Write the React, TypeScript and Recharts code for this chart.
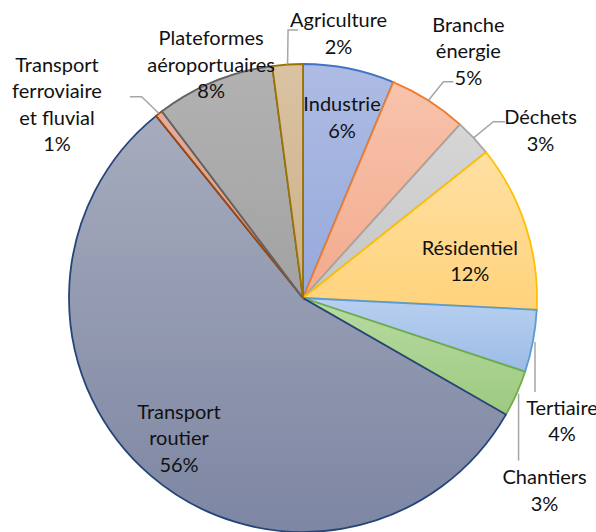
import { Cell, Pie, PieChart } from "recharts"

// émissions par secteur (%), dans l'ordre du tracé à partir de midi
const sectors = [
  "Industrie",
  "Branche\nénergie",
  "Déchets",
  "Résidentiel",
  "Tertiaire",
  "Chantiers",
  "Transport\nroutier",
  "Transport\nferroviaire\net fluvial",
  "Plateformes\naéroportuaires",
  "Agriculture",
]
const shares = [6.3, 5.4, 2.6, 11.5, 4.3, 3.2, 55.9, 0.5, 8.2, 2.1]

const data = sectors.map((name, i) => ({ name, value: shares[i] }))

const FILL_TOP = ["#AEBCE4", "#F8C3AC", "#D6D6D6", "#FFE0A3", "#B8D0F0", "#B8DBA2", "#A6ACBD", "#E2AE9E", "#B2B2B2", "#DAC2A2"]
const FILL_BOTTOM = ["#95A9DA", "#F2AB8D", "#C6C6C6", "#FFD37C", "#9CBCE6", "#9CC97F", "#7D86A3", "#D59A86", "#A2A2A2", "#CDB08C"]
const STROKES = ["#4472C4", "#ED7D31", "#A5A5A5", "#FFC000", "#5B9BD5", "#70AD47", "#264478", "#9E480E", "#636363", "#997300"]

const W = 596
const H = 532
const CX = 303
const CY = 298
const R = 234
const RAD = Math.PI / 180
const LINE_H = 26.5

// label block centre, relative to the point on the rim at the slice's mid angle
const LABEL_OFFSET = [
  [-7, 48],
  [40, -50.4],
  [67, -8.5],
  [-56, 33.5],
  [29, 79],
  [28, 96],
  [28, -38.5],
  [-102, -10],
  [-3, -18],
  [51, -32],
]
// leader lines (Excel style), same reference point
const LEADERS: number[][][] = [
  [],
  [[0, 0], [15, -18.7], [25, -18.7]],
  [[0, 0], [19.7, -16.1], [31.4, -16.1]],
  [],
  [[2, 1], [2, 51]],
  [[2, 0], [2, 67]],
  [],
  [[0, 0], [-17.3, -16.9], [-29, -16.9]],
  [],
  [[0, 0], [0.5, -34.5], [10.5, -34.5]],
]

function renderLabel(props: any) {
  const { midAngle, index, value } = props
  const ax = CX + R * Math.cos(midAngle * RAD)
  const ay = CY - R * Math.sin(midAngle * RAD)
  const [dx, dy] = LABEL_OFFSET[index]
  const lines = [...sectors[index].split("\n"), `${Math.round(value)}%`]
  const top = ay + dy - ((lines.length - 1) * LINE_H) / 2
  const leader = LEADERS[index]
  return (
    <g key={`lbl-${index}`}>
      {leader.length > 0 && (
        <polyline
          points={leader.map(([x, y]) => `${ax + x},${ay + y}`).join(" ")}
          fill="none"
          stroke="#A6A6A6"
          strokeWidth={1.5}
        />
      )}
      <text
        x={ax + dx}
        y={top}
        textAnchor="middle"
        dominantBaseline="central"
        fontFamily="Lato, 'Open Sans', sans-serif"
        fontSize={20}
        fill="#111"
      >
        {lines.map((l, i) => (
          <tspan key={i} x={ax + dx} y={top + i * LINE_H}>
            {l}
          </tspan>
        ))}
      </text>
    </g>
  )
}

export default function App() {
  return (
    <div style={{ position: "absolute", left: 0, top: 0, width: W, height: H, background: "#fff" }}>
      <svg width={0} height={0} style={{ position: "absolute" }}>
        <defs>
          {FILL_TOP.map((c, i) => (
            <linearGradient key={i} id={`grad-${i}`} x1="0" y1="0" x2="0" y2="1">
              <stop offset="0%" stopColor={c} />
              <stop offset="100%" stopColor={FILL_BOTTOM[i]} />
            </linearGradient>
          ))}
        </defs>
      </svg>
      <PieChart width={W} height={H} margin={{ top: 0, right: 0, bottom: 0, left: 0 }}>
        <Pie
          data={data}
          dataKey="value"
          cx={CX}
          cy={CY}
          outerRadius={R}
          startAngle={90}
          endAngle={-270}
          labelLine={false}
          label={renderLabel}
          isAnimationActive={false}
        >
          {data.map((entry, index) => (
            <Cell key={`cell-${index}`} fill={`url(#grad-${index})`} stroke={STROKES[index]} strokeWidth={1.8} />
          ))}
        </Pie>
      </PieChart>
    </div>
  )
}
